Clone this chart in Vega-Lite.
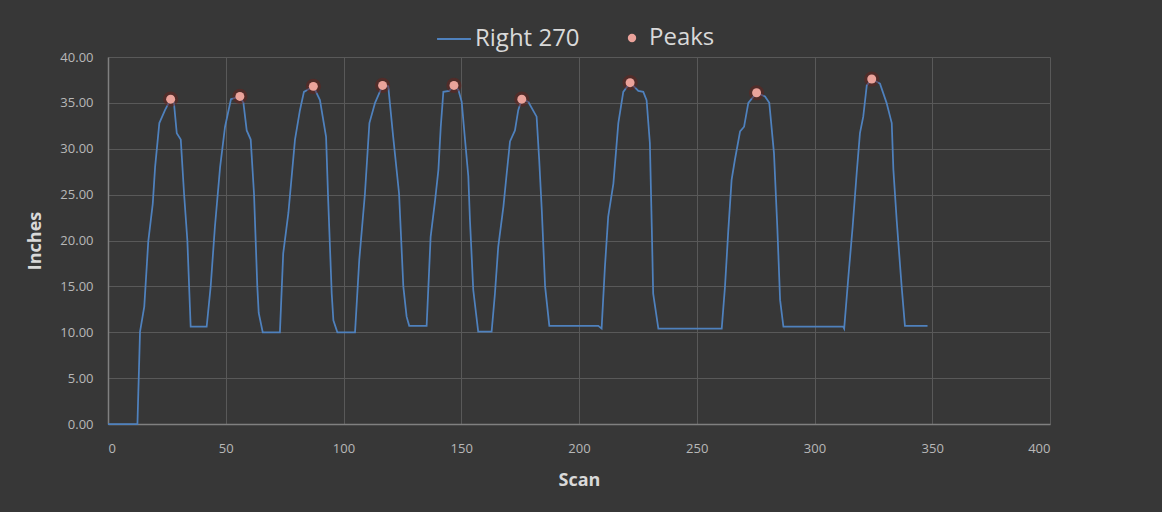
{
  "$schema": "https://vega.github.io/schema/vega-lite/v6.json",
  "width": 942,
  "height": 367,
  "autosize": {"type": "none"},
  "padding": {"left": 108, "top": 57, "right": 112, "bottom": 88},
  "background": "#373737",
  "config": {
    "view": {"stroke": null},
    "font": "Open Sans",
    "axis": {
      "gridColor": "#595959",
      "gridWidth": 1,
      "domainColor": "#808080",
      "domainWidth": 1.5,
      "ticks": false,
      "labelColor": "#b8b8b8",
      "labelFontSize": 13,
      "labelFont": "Open Sans",
      "titleColor": "#d9d9d9",
      "titleFontSize": 18,
      "titleFontWeight": "bold",
      "titleFont": "Open Sans"
    },
    "legend": {
      "labelColor": "#d9d9d9",
      "labelFontSize": 24,
      "labelFont": "Open Sans"
    }
  },
  "datasets": {
    "line": [
      {"scan": 0, "inches": 0},
      {"scan": 12.5, "inches": 0},
      {"scan": 13.6, "inches": 10.06},
      {"scan": 15.4, "inches": 12.8},
      {"scan": 17.1, "inches": 19.9},
      {"scan": 19, "inches": 24},
      {"scan": 20, "inches": 28},
      {"scan": 21.8, "inches": 32.8},
      {"scan": 24.2, "inches": 34.2},
      {"scan": 26.6, "inches": 35.4},
      {"scan": 28, "inches": 35},
      {"scan": 29.2, "inches": 31.7},
      {"scan": 30.9, "inches": 31},
      {"scan": 32.3, "inches": 25.1},
      {"scan": 33.7, "inches": 20},
      {"scan": 35.1, "inches": 10.6},
      {"scan": 41.9, "inches": 10.6},
      {"scan": 43.6, "inches": 15},
      {"scan": 45.4, "inches": 21.5},
      {"scan": 47.6, "inches": 28},
      {"scan": 49.7, "inches": 32.4},
      {"scan": 52.2, "inches": 35.4},
      {"scan": 56, "inches": 35.7},
      {"scan": 57.5, "inches": 35},
      {"scan": 58.9, "inches": 32},
      {"scan": 60.6, "inches": 31},
      {"scan": 62, "inches": 25.1},
      {"scan": 63.4, "inches": 15},
      {"scan": 64, "inches": 12.1},
      {"scan": 65.7, "inches": 10},
      {"scan": 73, "inches": 10},
      {"scan": 74.4, "inches": 18.6},
      {"scan": 76.6, "inches": 23},
      {"scan": 79.4, "inches": 31},
      {"scan": 81.5, "inches": 34.2},
      {"scan": 83.2, "inches": 36.2},
      {"scan": 84.6, "inches": 36.4},
      {"scan": 87.2, "inches": 36.8},
      {"scan": 90, "inches": 35.3},
      {"scan": 92.6, "inches": 31.3},
      {"scan": 93.5, "inches": 24.4},
      {"scan": 95, "inches": 14.2},
      {"scan": 95.7, "inches": 11.3},
      {"scan": 97.4, "inches": 10},
      {"scan": 104.9, "inches": 10},
      {"scan": 106.7, "inches": 17.9},
      {"scan": 109.1, "inches": 25.1},
      {"scan": 111, "inches": 32.8},
      {"scan": 113.4, "inches": 35},
      {"scan": 116.6, "inches": 36.9},
      {"scan": 119, "inches": 36.8},
      {"scan": 121.1, "inches": 31.3},
      {"scan": 123.6, "inches": 25.1},
      {"scan": 125.4, "inches": 15},
      {"scan": 126.8, "inches": 11.7},
      {"scan": 127.9, "inches": 10.7},
      {"scan": 135.3, "inches": 10.7},
      {"scan": 137, "inches": 20.4},
      {"scan": 138.9, "inches": 24.4},
      {"scan": 140.3, "inches": 27.7},
      {"scan": 141.3, "inches": 32.4},
      {"scan": 142.4, "inches": 36.2},
      {"scan": 144.9, "inches": 36.3},
      {"scan": 146.9, "inches": 36.9},
      {"scan": 148.8, "inches": 36.4},
      {"scan": 150.2, "inches": 35.1},
      {"scan": 151.6, "inches": 31},
      {"scan": 153, "inches": 27},
      {"scan": 153.7, "inches": 22.2},
      {"scan": 155.1, "inches": 14.6},
      {"scan": 157.2, "inches": 10.06},
      {"scan": 162.9, "inches": 10.06},
      {"scan": 164.3, "inches": 14.2},
      {"scan": 165.7, "inches": 19.3},
      {"scan": 167.9, "inches": 23.7},
      {"scan": 169.3, "inches": 27.3},
      {"scan": 170.7, "inches": 30.8},
      {"scan": 172.8, "inches": 32},
      {"scan": 174.2, "inches": 34.2},
      {"scan": 175.7, "inches": 35.4},
      {"scan": 178.5, "inches": 35.1},
      {"scan": 182, "inches": 33.5},
      {"scan": 183.1, "inches": 28.8},
      {"scan": 184.2, "inches": 23.3},
      {"scan": 185.6, "inches": 15},
      {"scan": 187.4, "inches": 10.7},
      {"scan": 208.2, "inches": 10.7},
      {"scan": 209.6, "inches": 10.4},
      {"scan": 211, "inches": 17.1},
      {"scan": 212.4, "inches": 22.6},
      {"scan": 214.6, "inches": 26.2},
      {"scan": 216.7, "inches": 32.8},
      {"scan": 218.8, "inches": 36.2},
      {"scan": 221.7, "inches": 37.2},
      {"scan": 225.2, "inches": 36.3},
      {"scan": 227.3, "inches": 36.2},
      {"scan": 228.7, "inches": 35.3},
      {"scan": 230.1, "inches": 30.6},
      {"scan": 230.9, "inches": 21.5},
      {"scan": 231.5, "inches": 14.2},
      {"scan": 233.7, "inches": 10.4},
      {"scan": 260.6, "inches": 10.4},
      {"scan": 262, "inches": 15},
      {"scan": 263.4, "inches": 21.1},
      {"scan": 264.8, "inches": 26.6},
      {"scan": 266.2, "inches": 28.8},
      {"scan": 268.4, "inches": 31.9},
      {"scan": 270.1, "inches": 32.4},
      {"scan": 271.9, "inches": 35},
      {"scan": 275.4, "inches": 36.1},
      {"scan": 279, "inches": 35.7},
      {"scan": 280.8, "inches": 35},
      {"scan": 282.8, "inches": 29.5},
      {"scan": 284.2, "inches": 21.5},
      {"scan": 285.4, "inches": 13.5},
      {"scan": 286.8, "inches": 10.6},
      {"scan": 312.2, "inches": 10.6},
      {"scan": 312.6, "inches": 10.4},
      {"scan": 314.4, "inches": 16.1},
      {"scan": 316.2, "inches": 21.5},
      {"scan": 317.9, "inches": 27.3},
      {"scan": 319.3, "inches": 31.7},
      {"scan": 320.7, "inches": 33.5},
      {"scan": 322.2, "inches": 36.9},
      {"scan": 324.3, "inches": 37.6},
      {"scan": 327.8, "inches": 37.1},
      {"scan": 330.6, "inches": 35},
      {"scan": 332.8, "inches": 32.8},
      {"scan": 333.5, "inches": 27.7},
      {"scan": 334.9, "inches": 22.2},
      {"scan": 337, "inches": 15},
      {"scan": 338.4, "inches": 10.7},
      {"scan": 348, "inches": 10.7}
    ],
    "peaks": [
      {"scan": 26.6, "inches": 35.4},
      {"scan": 56, "inches": 35.7},
      {"scan": 87.2, "inches": 36.8},
      {"scan": 116.6, "inches": 36.9},
      {"scan": 146.9, "inches": 36.9},
      {"scan": 175.7, "inches": 35.4},
      {"scan": 221.7, "inches": 37.2},
      {"scan": 275.4, "inches": 36.1},
      {"scan": 324.3, "inches": 37.6}
    ]
  },
  "encoding": {
    "x": {
      "field": "scan",
      "type": "quantitative",
      "scale": {"domain": [0, 400], "nice": false, "zero": true},
      "axis": {
        "title": "Scan",
        "values": [0, 50, 100, 150, 200, 250, 300, 350, 400],
        "labelPadding": 18,
        "titlePadding": 16,
        "format": "d"
      }
    },
    "y": {
      "field": "inches",
      "type": "quantitative",
      "scale": {"domain": [0, 40], "nice": false},
      "axis": {
        "title": "Inches",
        "values": [0, 5, 10, 15, 20, 25, 30, 35, 40],
        "format": ".2f",
        "labelPadding": 15,
        "titlePadding": 15
      }
    }
  },
  "layer": [
    {
      "data": {"name": "line"},
      "mark": {"type": "line", "strokeWidth": 1.75},
      "encoding": {
        "stroke": {
          "datum": "Right 270",
          "type": "nominal",
          "scale": {"domain": ["Right 270"], "range": ["#4f81bd"]},
          "legend": {
            "title": null,
            "orient": "none",
            "legendX": 328,
            "legendY": -36,
            "symbolType": "stroke",
            "symbolSize": 1150,
            "symbolStrokeWidth": 2,
            "labelOffset": 3
          }
        }
      }
    },
    {
      "data": {"name": "peaks"},
      "mark": {"type": "point", "filled": true, "size": 230, "color": "#6e1f18", "opacity": 0.45},
      "encoding": {}
    },
    {
      "data": {"name": "peaks"},
      "mark": {"type": "point", "filled": true, "size": 80, "opacity": 1},
      "encoding": {
        "fill": {
          "datum": "Peaks",
          "type": "nominal",
          "scale": {"domain": ["Peaks"], "range": ["#eba39b"]},
          "legend": {
            "title": null,
            "orient": "none",
            "legendX": 512,
            "legendY": -31,
            "symbolType": "circle",
            "symbolSize": 70,
            "symbolOpacity": 1,
            "labelOffset": 5
          }
        }
      }
    }
  ]
}
